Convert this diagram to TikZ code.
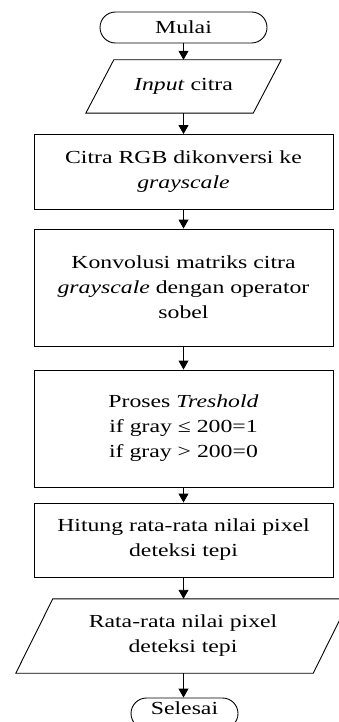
\documentclass[tikz,border=0pt]{standalone}
\usepackage{fontspec}
\setmainfont{Liberation Serif}[FakeStretch=1.29]
\usetikzlibrary{arrows.meta,shapes.misc}
\begin{document}
\begin{tikzpicture}[x=1pt,y=-1pt,
  every node/.style={font=\fontsize{18.4}{25}\selectfont, align=center, inner sep=0pt},
  term/.style={draw, line width=0.9pt, rounded rectangle},
  proc/.style={draw, line width=0.9pt, rectangle},
  frame/.style={rectangle},
  para/.style={line width=0.9pt},
  arr/.style={line width=0.9pt, -{Triangle[length=9pt,width=10pt]}}]
\useasboundingbox (0,0) rectangle (339,722);
\clip (0,0) rectangle (339,722);

\node[term, minimum width=167pt, minimum height=31pt] (start) at (183.5,27.5) {Mulai};

\node[frame, minimum width=195pt, minimum height=53pt] (in) at (183.5,86.5) {\textit{Input} citra};
\draw[para] ([xshift=28pt]in.north west) -- (in.north east) -- ([xshift=-28pt]in.south east) -- (in.south west) -- cycle;

\node[proc, minimum width=299pt, minimum height=74.5pt] (b1) at (183.5,171.75) {Citra RGB dikonversi ke\\\textit{grayscale}};

\node[proc, minimum width=299pt, minimum height=117pt] (b2) at (183.5,287.5) {Konvolusi matriks citra\\\textit{grayscale} dengan operator\\sobel};

\node[proc, minimum width=299pt, minimum height=117pt] (b3) at (183.5,428.5) {Proses \textit{Treshold}\\if gray ≤ 200=1\\if gray > 200=0};

\node[proc, minimum width=299pt, minimum height=74pt] (b4) at (183.5,540) {Hitung rata-rata nilai pixel\\deteksi tepi};

\node[frame, minimum width=334pt, minimum height=74pt] (out) at (183,636) {Rata-rata nilai pixel\\deteksi tepi};
\draw[para] ([xshift=37pt]out.north west) -- (out.north east) -- ([xshift=-37pt]out.south east) -- (out.south west) -- cycle;

\node[term, minimum width=107pt, minimum height=31pt, text depth=10pt] (end) at (184.5,713.5) {Selesai};

\draw[arr] (start.south) -- (in.north);
\draw[arr] (in.south) -- (b1.north);
\draw[arr] (b1.south) -- (b2.north);
\draw[arr] (b2.south) -- (b3.north);
\draw[arr] (b3.south) -- (b4.north);
\draw[arr] (b4.south) -- (b4.south |- out.north);
\draw[arr] (b4.south |- out.south) -- (b4.south |- end.north);
\end{tikzpicture}
\end{document}
